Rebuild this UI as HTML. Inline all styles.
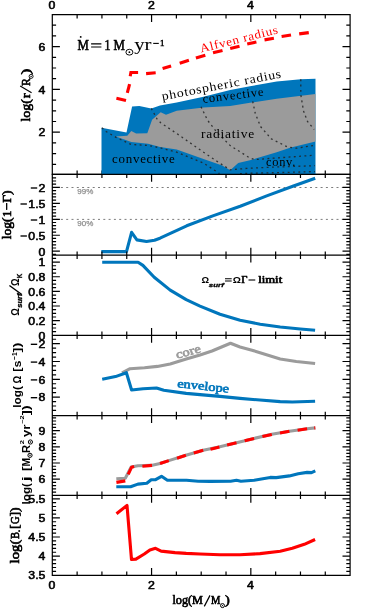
<!DOCTYPE html>
<html><head><meta charset="utf-8"><title>chart</title>
<style>
html,body{margin:0;padding:0;background:#fff}
svg{display:block;will-change:transform}
.tk{font-family:"Liberation Sans",sans-serif;font-weight:normal;fill:#000;stroke:#000;stroke-width:0.55px;stroke-linejoin:round}
.sf{font-family:"Liberation Serif",serif;font-weight:normal;stroke-width:0.65px;stroke-linejoin:round}
.sk{stroke:#000}
.tb{font-family:"Liberation Sans",sans-serif;font-weight:bold;fill:#000}
.sr{font-family:"Liberation Serif",serif;font-weight:normal}
</style></head><body>
<svg width="374" height="609" viewBox="0 0 374 609">
<rect width="374" height="609" fill="#fff"/>
<path d="M52.30 14.60H350.10V174.30H52.30ZM77.12 14.60L77.12 18.40M77.12 174.30L77.12 170.50M101.93 14.60L101.93 18.40M101.93 174.30L101.93 170.50M126.75 14.60L126.75 18.40M126.75 174.30L126.75 170.50M151.57 14.60L151.57 22.00M151.57 174.30L151.57 166.90M176.38 14.60L176.38 18.40M176.38 174.30L176.38 170.50M201.20 14.60L201.20 18.40M201.20 174.30L201.20 170.50M226.02 14.60L226.02 18.40M226.02 174.30L226.02 170.50M250.83 14.60L250.83 22.00M250.83 174.30L250.83 166.90M275.65 14.60L275.65 18.40M275.65 174.30L275.65 170.50M300.47 14.60L300.47 18.40M300.47 174.30L300.47 170.50M325.28 14.60L325.28 18.40M325.28 174.30L325.28 170.50M52.30 25.20L56.10 25.20M350.10 25.20L346.30 25.20M52.30 35.90L56.10 35.90M350.10 35.90L346.30 35.90M52.30 46.60L59.90 46.60M350.10 46.60L342.50 46.60M52.30 57.30L56.10 57.30M350.10 57.30L346.30 57.30M52.30 68.00L56.10 68.00M350.10 68.00L346.30 68.00M52.30 78.70L56.10 78.70M350.10 78.70L346.30 78.70M52.30 89.40L59.90 89.40M350.10 89.40L342.50 89.40M52.30 100.10L56.10 100.10M350.10 100.10L346.30 100.10M52.30 110.80L56.10 110.80M350.10 110.80L346.30 110.80M52.30 121.50L56.10 121.50M350.10 121.50L346.30 121.50M52.30 132.20L59.90 132.20M350.10 132.20L342.50 132.20M52.30 142.90L56.10 142.90M350.10 142.90L346.30 142.90M52.30 153.60L56.10 153.60M350.10 153.60L346.30 153.60M52.30 164.30L56.10 164.30M350.10 164.30L346.30 164.30" fill="none" stroke="#000" stroke-width="1.20" stroke-linecap="butt"/>
<polygon points="101.5,127.7 126.5,132.5 132.1,106.5 139.3,106.0 151.3,108.4 160.0,105.6 176.7,102.6 203.5,96.7 230.2,90.0 250.0,86.2 276.7,81.6 300.8,79.3 315.5,78.7 315.5,174.3 101.5,174.3" fill="#0076bc"/>
<polygon points="116.0,136.5 127.3,135.7 131.3,130.9 136.1,133.6 147.3,133.3 152.1,119.7 160.7,112.3 166.0,114.8 176.7,110.8 203.5,107.6 230.2,106.0 250.0,102.8 276.7,98.8 315.5,94.0 315.5,141.6 290.0,147.7 276.7,152.2 250.0,160.3 238.2,163.0 230.2,170.2 222.2,165.6 203.5,158.9 176.7,149.6 160.0,147.0 148.1,143.7 131.3,142.1" fill="#9b9b9b"/>
<polyline points="101.9,127.7 106.4,131.7 116.0,137.3 131.3,144.5 148.1,145.4 160.0,147.8 176.7,152.2 203.5,163.0 219.5,173.6" fill="none" stroke="#222" stroke-opacity="0.85" stroke-width="1.3" stroke-dasharray="1.9 3.4"/>
<polyline points="151.3,108.4 157.0,118.9 160.7,122.8 176.7,133.5 203.5,152.2 219.5,163.0 230.2,169.8 246.7,168.4 273.5,167.1 315.0,165.7" fill="none" stroke="#222" stroke-opacity="0.85" stroke-width="1.3" stroke-dasharray="1.9 3.4"/>
<polyline points="201.0,106.8 207.5,120.2 216.8,132.2 230.2,145.6 249.4,157.7 254.8,159.6 273.5,158.2 315.0,155.2" fill="none" stroke="#222" stroke-opacity="0.85" stroke-width="1.3" stroke-dasharray="1.9 3.4"/>
<polyline points="252.7,101.4 255.3,113.5 260.7,126.8 271.4,138.9 287.4,146.9 296.6,148.2 315.5,145.2" fill="none" stroke="#222" stroke-opacity="0.85" stroke-width="1.3" stroke-dasharray="1.9 3.4"/>
<polyline points="300.8,79.3 300.8,94.8 303.5,110.8 307.5,121.5 314.2,129.5" fill="none" stroke="#222" stroke-opacity="0.85" stroke-width="1.3" stroke-dasharray="1.9 3.4"/>
<polyline points="240.0,173.6 252.7,173.2 279.5,172.6 315.0,171.6" fill="none" stroke="#222" stroke-opacity="0.85" stroke-width="1.3" stroke-dasharray="1.9 3.4"/>
<polyline points="116.4,98.2 126.0,100.4" fill="none" stroke="#ff0000" stroke-width="3.1" stroke-linejoin="miter"/>
<polyline points="127.3,92.9 129.6,84.1" fill="none" stroke="#ff0000" stroke-width="3.1" stroke-linejoin="miter"/>
<polyline points="130.2,76.2 130.9,72.5 138.1,72.5" fill="none" stroke="#ff0000" stroke-width="3.1" stroke-linejoin="miter"/>
<polyline points="146.1,73.6 155.7,72.8" fill="none" stroke="#ff0000" stroke-width="3.1" stroke-linejoin="miter"/>
<polyline points="162.6,68.6 171.1,66.0" fill="none" stroke="#ff0000" stroke-width="3.1" stroke-linejoin="miter"/>
<polyline points="179.7,63.2 188.9,60.2" fill="none" stroke="#ff0000" stroke-width="3.1" stroke-linejoin="miter"/>
<polyline points="195.9,58.1 205.3,55.3" fill="none" stroke="#ff0000" stroke-width="3.1" stroke-linejoin="miter"/>
<polyline points="213.0,52.8 222.5,50.4" fill="none" stroke="#ff0000" stroke-width="3.1" stroke-linejoin="miter"/>
<polyline points="230.2,48.5 239.5,46.2" fill="none" stroke="#ff0000" stroke-width="3.1" stroke-linejoin="miter"/>
<polyline points="247.2,44.0 256.4,42.0" fill="none" stroke="#ff0000" stroke-width="3.1" stroke-linejoin="miter"/>
<polyline points="264.5,39.9 273.9,38.2" fill="none" stroke="#ff0000" stroke-width="3.1" stroke-linejoin="miter"/>
<polyline points="281.6,36.5 291.0,35.0" fill="none" stroke="#ff0000" stroke-width="3.1" stroke-linejoin="miter"/>
<polyline points="299.2,33.9 308.8,32.6" fill="none" stroke="#ff0000" stroke-width="3.1" stroke-linejoin="miter"/>
<line x1="53.3" x2="350.1" y1="187.5" y2="187.5" stroke="#7d7d7d" stroke-width="1" stroke-dasharray="2 3.3" stroke-dashoffset="3"/>
<line x1="53.3" x2="350.1" y1="219.4" y2="219.4" stroke="#7d7d7d" stroke-width="1" stroke-dasharray="2 3.3" stroke-dashoffset="3"/>
<polyline points="101.3,251.6 126.5,251.6 131.6,232.3 136.9,239.9 146.5,241.5 154.5,240.3 160.0,238.2 186.7,225.8 213.5,215.6 240.2,206.3 266.7,195.9 293.5,186.0 315.2,178.2" fill="none" stroke="#0076bc" stroke-width="3.1" stroke-linejoin="round"/>
<polyline points="102.2,262.2 138.1,262.2 142.9,265.4 154.2,277.3 170.2,290.1 186.2,299.7 200.0,306.1 220.0,314.2 240.1,320.2 260.2,324.2 280.2,327.0 300.3,329.0 315.1,330.2" fill="none" stroke="#0076bc" stroke-width="3.1" stroke-linejoin="round"/>
<polyline points="122.0,372.9 130.1,368.7 144.5,367.7 157.4,366.4 170.2,363.9 186.2,359.1 200.0,355.0 212.0,351.0 230.5,343.3 240.0,347.0 252.0,350.2 280.2,359.0 296.3,361.5 315.1,363.5" fill="none" stroke="#9b9b9b" stroke-width="3.1" stroke-linejoin="round"/>
<polyline points="102.2,379.3 115.5,376.6 126.4,372.7 131.6,390.0 143.1,388.7 156.5,388.0 163.8,390.2 186.2,393.4 200.0,394.6 220.0,396.4 240.0,398.4 260.0,400.0 280.2,401.6 292.3,402.0 315.1,401.2" fill="none" stroke="#0076bc" stroke-width="3.1" stroke-linejoin="round"/>
<polyline points="116.3,478.8 125.3,478.2 131.2,467.1 137.9,465.8 151.2,465.4 160.0,463.5 168.8,460.6 185.9,455.3 203.2,450.3 218.8,446.9 236.5,442.7 254.1,438.4 271.8,434.3 289.4,431.3 307.1,428.8 315.3,427.9" fill="none" stroke="#9b9b9b" stroke-width="3.1" stroke-linejoin="round"/>
<polyline points="116.4,482.4 125.3,480.9" fill="none" stroke="#ff0000" stroke-width="3.1"/>
<polyline points="128.2,474.4 131.6,467.2 134.1,466.5" fill="none" stroke="#ff0000" stroke-width="3.1"/>
<polyline points="142.4,466.2 152.0,465.4" fill="none" stroke="#ff0000" stroke-width="3.1"/>
<polyline points="160.0,463.5 168.8,460.6" fill="none" stroke="#ff0000" stroke-width="3.1"/>
<polyline points="177.0,458.2 185.9,455.3" fill="none" stroke="#ff0000" stroke-width="3.1"/>
<polyline points="193.8,452.9 203.2,450.3" fill="none" stroke="#ff0000" stroke-width="3.1"/>
<polyline points="210.5,449.2 219.4,446.9" fill="none" stroke="#ff0000" stroke-width="3.1"/>
<polyline points="227.1,445.1 236.5,442.8" fill="none" stroke="#ff0000" stroke-width="3.1"/>
<polyline points="244.7,440.8 254.1,438.5" fill="none" stroke="#ff0000" stroke-width="3.1"/>
<polyline points="262.4,436.5 271.8,434.4" fill="none" stroke="#ff0000" stroke-width="3.1"/>
<polyline points="280.0,433.0 289.4,431.3" fill="none" stroke="#ff0000" stroke-width="3.1"/>
<polyline points="297.6,430.2 307.1,428.8" fill="none" stroke="#ff0000" stroke-width="3.1"/>
<polyline points="314.3,428.0 315.3,427.9" fill="none" stroke="#ff0000" stroke-width="3.1"/>
<polyline points="116.3,486.8 130.6,486.8 137.9,484.1 146.8,483.2 151.2,479.7 155.6,479.7 161.5,476.3 167.4,480.3 186.5,480.3 198.2,481.2 210.0,481.4 230.6,481.2 236.5,480.3 240.9,481.2 254.1,480.3 262.9,478.8 270.3,477.4 276.2,477.6 289.4,475.9 298.2,473.8 307.1,472.4 311.5,472.6 315.3,470.9" fill="none" stroke="#0076bc" stroke-width="3.1" stroke-linejoin="round"/>
<polyline points="116.5,513.7 127.0,505.4 131.5,559.5 135.9,559.1 144.3,554.0 149.9,549.9 155.5,548.3 161.1,551.1 175.0,552.6 186.2,553.4 200.0,554.0 220.0,554.8 240.0,554.8 260.0,553.6 280.2,551.2 292.3,548.3 304.3,544.3 315.1,539.5" fill="none" stroke="#ff0000" stroke-width="3.1" stroke-linejoin="round"/>
<path d="M52.30 174.30H350.10V255.20H52.30ZM77.12 174.30L77.12 178.10M77.12 255.20L77.12 251.40M101.93 174.30L101.93 178.10M101.93 255.20L101.93 251.40M126.75 174.30L126.75 178.10M126.75 255.20L126.75 251.40M151.57 174.30L151.57 181.70M151.57 255.20L151.57 247.80M176.38 174.30L176.38 178.10M176.38 255.20L176.38 251.40M201.20 174.30L201.20 178.10M201.20 255.20L201.20 251.40M226.02 174.30L226.02 178.10M226.02 255.20L226.02 251.40M250.83 174.30L250.83 181.70M250.83 255.20L250.83 247.80M275.65 174.30L275.65 178.10M275.65 255.20L275.65 251.40M300.47 174.30L300.47 178.10M300.47 255.20L300.47 251.40M325.28 174.30L325.28 178.10M325.28 255.20L325.28 251.40M52.30 177.83L56.10 177.83M350.10 177.83L346.30 177.83M52.30 181.02L56.10 181.02M350.10 181.02L346.30 181.02M52.30 184.21L56.10 184.21M350.10 184.21L346.30 184.21M52.30 187.40L59.90 187.40M350.10 187.40L342.50 187.40M52.30 190.59L56.10 190.59M350.10 190.59L346.30 190.59M52.30 193.78L56.10 193.78M350.10 193.78L346.30 193.78M52.30 196.97L56.10 196.97M350.10 196.97L346.30 196.97M52.30 200.16L56.10 200.16M350.10 200.16L346.30 200.16M52.30 203.35L59.90 203.35M350.10 203.35L342.50 203.35M52.30 206.54L56.10 206.54M350.10 206.54L346.30 206.54M52.30 209.73L56.10 209.73M350.10 209.73L346.30 209.73M52.30 212.92L56.10 212.92M350.10 212.92L346.30 212.92M52.30 216.11L56.10 216.11M350.10 216.11L346.30 216.11M52.30 219.30L59.90 219.30M350.10 219.30L342.50 219.30M52.30 222.49L56.10 222.49M350.10 222.49L346.30 222.49M52.30 225.68L56.10 225.68M350.10 225.68L346.30 225.68M52.30 228.87L56.10 228.87M350.10 228.87L346.30 228.87M52.30 232.06L56.10 232.06M350.10 232.06L346.30 232.06M52.30 235.25L59.90 235.25M350.10 235.25L342.50 235.25M52.30 238.44L56.10 238.44M350.10 238.44L346.30 238.44M52.30 241.63L56.10 241.63M350.10 241.63L346.30 241.63M52.30 244.82L56.10 244.82M350.10 244.82L346.30 244.82M52.30 248.01L56.10 248.01M350.10 248.01L346.30 248.01M52.30 251.20L59.90 251.20M350.10 251.20L342.50 251.20M52.30 254.39L56.10 254.39M350.10 254.39L346.30 254.39M52.30 255.20H350.10V335.30H52.30ZM77.12 255.20L77.12 259.00M77.12 335.30L77.12 331.50M101.93 255.20L101.93 259.00M101.93 335.30L101.93 331.50M126.75 255.20L126.75 259.00M126.75 335.30L126.75 331.50M151.57 255.20L151.57 262.60M151.57 335.30L151.57 327.90M176.38 255.20L176.38 259.00M176.38 335.30L176.38 331.50M201.20 255.20L201.20 259.00M201.20 335.30L201.20 331.50M226.02 255.20L226.02 259.00M226.02 335.30L226.02 331.50M250.83 255.20L250.83 262.60M250.83 335.30L250.83 327.90M275.65 255.20L275.65 259.00M275.65 335.30L275.65 331.50M300.47 255.20L300.47 259.00M300.47 335.30L300.47 331.50M325.28 255.20L325.28 259.00M325.28 335.30L325.28 331.50M52.30 258.44L56.10 258.44M350.10 258.44L346.30 258.44M52.30 262.10L59.90 262.10M350.10 262.10L342.50 262.10M52.30 265.76L56.10 265.76M350.10 265.76L346.30 265.76M52.30 269.42L56.10 269.42M350.10 269.42L346.30 269.42M52.30 273.08L56.10 273.08M350.10 273.08L346.30 273.08M52.30 276.74L59.90 276.74M350.10 276.74L342.50 276.74M52.30 280.40L56.10 280.40M350.10 280.40L346.30 280.40M52.30 284.06L56.10 284.06M350.10 284.06L346.30 284.06M52.30 287.72L56.10 287.72M350.10 287.72L346.30 287.72M52.30 291.38L59.90 291.38M350.10 291.38L342.50 291.38M52.30 295.04L56.10 295.04M350.10 295.04L346.30 295.04M52.30 298.70L56.10 298.70M350.10 298.70L346.30 298.70M52.30 302.36L56.10 302.36M350.10 302.36L346.30 302.36M52.30 306.02L59.90 306.02M350.10 306.02L342.50 306.02M52.30 309.68L56.10 309.68M350.10 309.68L346.30 309.68M52.30 313.34L56.10 313.34M350.10 313.34L346.30 313.34M52.30 317.00L56.10 317.00M350.10 317.00L346.30 317.00M52.30 320.66L59.90 320.66M350.10 320.66L342.50 320.66M52.30 324.32L56.10 324.32M350.10 324.32L346.30 324.32M52.30 327.98L56.10 327.98M350.10 327.98L346.30 327.98M52.30 331.64L56.10 331.64M350.10 331.64L346.30 331.64M52.30 335.30H350.10V415.60H52.30ZM77.12 335.30L77.12 339.10M77.12 415.60L77.12 411.80M101.93 335.30L101.93 339.10M101.93 415.60L101.93 411.80M126.75 335.30L126.75 339.10M126.75 415.60L126.75 411.80M151.57 335.30L151.57 342.70M151.57 415.60L151.57 408.20M176.38 335.30L176.38 339.10M176.38 415.60L176.38 411.80M201.20 335.30L201.20 339.10M201.20 415.60L201.20 411.80M226.02 335.30L226.02 339.10M226.02 415.60L226.02 411.80M250.83 335.30L250.83 342.70M250.83 415.60L250.83 408.20M275.65 335.30L275.65 339.10M275.65 415.60L275.65 411.80M300.47 335.30L300.47 339.10M300.47 415.60L300.47 411.80M325.28 335.30L325.28 339.10M325.28 415.60L325.28 411.80M52.30 339.25L56.10 339.25M350.10 339.25L346.30 339.25M52.30 343.70L59.90 343.70M350.10 343.70L342.50 343.70M52.30 348.15L56.10 348.15M350.10 348.15L346.30 348.15M52.30 352.60L56.10 352.60M350.10 352.60L346.30 352.60M52.30 357.05L56.10 357.05M350.10 357.05L346.30 357.05M52.30 361.50L59.90 361.50M350.10 361.50L342.50 361.50M52.30 365.95L56.10 365.95M350.10 365.95L346.30 365.95M52.30 370.40L56.10 370.40M350.10 370.40L346.30 370.40M52.30 374.85L56.10 374.85M350.10 374.85L346.30 374.85M52.30 379.30L59.90 379.30M350.10 379.30L342.50 379.30M52.30 383.75L56.10 383.75M350.10 383.75L346.30 383.75M52.30 388.20L56.10 388.20M350.10 388.20L346.30 388.20M52.30 392.65L56.10 392.65M350.10 392.65L346.30 392.65M52.30 397.10L59.90 397.10M350.10 397.10L342.50 397.10M52.30 401.55L56.10 401.55M350.10 401.55L346.30 401.55M52.30 406.00L56.10 406.00M350.10 406.00L346.30 406.00M52.30 410.45L56.10 410.45M350.10 410.45L346.30 410.45M52.30 415.60H350.10V495.30H52.30ZM77.12 415.60L77.12 419.40M77.12 495.30L77.12 491.50M101.93 415.60L101.93 419.40M101.93 495.30L101.93 491.50M126.75 415.60L126.75 419.40M126.75 495.30L126.75 491.50M151.57 415.60L151.57 423.00M151.57 495.30L151.57 487.90M176.38 415.60L176.38 419.40M176.38 495.30L176.38 491.50M201.20 415.60L201.20 419.40M201.20 495.30L201.20 491.50M226.02 415.60L226.02 419.40M226.02 495.30L226.02 491.50M250.83 415.60L250.83 423.00M250.83 495.30L250.83 487.90M275.65 415.60L275.65 419.40M275.65 495.30L275.65 491.50M300.47 415.60L300.47 419.40M300.47 495.30L300.47 491.50M325.28 415.60L325.28 419.40M325.28 495.30L325.28 491.50M52.30 417.78L56.10 417.78M350.10 417.78L346.30 417.78M52.30 421.01L56.10 421.01M350.10 421.01L346.30 421.01M52.30 424.24L56.10 424.24M350.10 424.24L346.30 424.24M52.30 427.47L56.10 427.47M350.10 427.47L346.30 427.47M52.30 430.70L59.90 430.70M350.10 430.70L342.50 430.70M52.30 433.93L56.10 433.93M350.10 433.93L346.30 433.93M52.30 437.16L56.10 437.16M350.10 437.16L346.30 437.16M52.30 440.39L56.10 440.39M350.10 440.39L346.30 440.39M52.30 443.62L56.10 443.62M350.10 443.62L346.30 443.62M52.30 446.85L59.90 446.85M350.10 446.85L342.50 446.85M52.30 450.08L56.10 450.08M350.10 450.08L346.30 450.08M52.30 453.31L56.10 453.31M350.10 453.31L346.30 453.31M52.30 456.54L56.10 456.54M350.10 456.54L346.30 456.54M52.30 459.77L56.10 459.77M350.10 459.77L346.30 459.77M52.30 463.00L59.90 463.00M350.10 463.00L342.50 463.00M52.30 466.23L56.10 466.23M350.10 466.23L346.30 466.23M52.30 469.46L56.10 469.46M350.10 469.46L346.30 469.46M52.30 472.69L56.10 472.69M350.10 472.69L346.30 472.69M52.30 475.92L56.10 475.92M350.10 475.92L346.30 475.92M52.30 479.15L59.90 479.15M350.10 479.15L342.50 479.15M52.30 482.38L56.10 482.38M350.10 482.38L346.30 482.38M52.30 485.61L56.10 485.61M350.10 485.61L346.30 485.61M52.30 488.84L56.10 488.84M350.10 488.84L346.30 488.84M52.30 492.07L56.10 492.07M350.10 492.07L346.30 492.07M52.30 495.30H350.10V575.30H52.30ZM77.12 495.30L77.12 499.10M77.12 575.30L77.12 571.50M101.93 495.30L101.93 499.10M101.93 575.30L101.93 571.50M126.75 495.30L126.75 499.10M126.75 575.30L126.75 571.50M151.57 495.30L151.57 502.70M151.57 575.30L151.57 567.90M176.38 495.30L176.38 499.10M176.38 575.30L176.38 571.50M201.20 495.30L201.20 499.10M201.20 575.30L201.20 571.50M226.02 495.30L226.02 499.10M226.02 575.30L226.02 571.50M250.83 495.30L250.83 502.70M250.83 575.30L250.83 567.90M275.65 495.30L275.65 499.10M275.65 575.30L275.65 571.50M300.47 495.30L300.47 499.10M300.47 575.30L300.47 571.50M325.28 495.30L325.28 499.10M325.28 575.30L325.28 571.50M52.30 498.90L59.90 498.90M350.10 498.90L342.50 498.90M52.30 502.71L56.10 502.71M350.10 502.71L346.30 502.71M52.30 506.52L56.10 506.52M350.10 506.52L346.30 506.52M52.30 510.33L56.10 510.33M350.10 510.33L346.30 510.33M52.30 514.14L56.10 514.14M350.10 514.14L346.30 514.14M52.30 517.95L59.90 517.95M350.10 517.95L342.50 517.95M52.30 521.76L56.10 521.76M350.10 521.76L346.30 521.76M52.30 525.57L56.10 525.57M350.10 525.57L346.30 525.57M52.30 529.38L56.10 529.38M350.10 529.38L346.30 529.38M52.30 533.19L56.10 533.19M350.10 533.19L346.30 533.19M52.30 537.00L59.90 537.00M350.10 537.00L342.50 537.00M52.30 540.81L56.10 540.81M350.10 540.81L346.30 540.81M52.30 544.62L56.10 544.62M350.10 544.62L346.30 544.62M52.30 548.43L56.10 548.43M350.10 548.43L346.30 548.43M52.30 552.24L56.10 552.24M350.10 552.24L346.30 552.24M52.30 556.05L59.90 556.05M350.10 556.05L342.50 556.05M52.30 559.86L56.10 559.86M350.10 559.86L346.30 559.86M52.30 563.67L56.10 563.67M350.10 563.67L346.30 563.67M52.30 567.48L56.10 567.48M350.10 567.48L346.30 567.48M52.30 571.29L56.10 571.29M350.10 571.29L346.30 571.29" fill="none" stroke="#000" stroke-width="1.20" stroke-linecap="butt"/>
<text transform="translate(45.4 50.8) scale(1.16 1)" text-anchor="end" class="tk" font-size="10.6">6</text>
<text transform="translate(45.4 93.6) scale(1.16 1)" text-anchor="end" class="tk" font-size="10.6">4</text>
<text transform="translate(45.4 136.4) scale(1.16 1)" text-anchor="end" class="tk" font-size="10.6">2</text>
<text transform="translate(45.4 191.6) scale(1.16 1)" text-anchor="end" class="tk" font-size="10.6">2</text>
<path d="M30.8 188.0H37.2" stroke="#000" stroke-width="1.35" fill="none"/>
<text transform="translate(45.4 207.6) scale(1.16 1)" text-anchor="end" class="tk" font-size="10.6">1.5</text>
<path d="M20.5 204.0H26.9" stroke="#000" stroke-width="1.35" fill="none"/>
<text transform="translate(45.4 223.6) scale(1.16 1)" text-anchor="end" class="tk" font-size="10.6">1</text>
<path d="M30.8 220.0H37.2" stroke="#000" stroke-width="1.35" fill="none"/>
<text transform="translate(45.4 239.6) scale(1.16 1)" text-anchor="end" class="tk" font-size="10.6">0.5</text>
<path d="M20.5 236.0H26.9" stroke="#000" stroke-width="1.35" fill="none"/>
<text transform="translate(45.4 255.5) scale(1.16 1)" text-anchor="end" class="tk" font-size="10.6">0</text>
<text transform="translate(45.4 266.3) scale(1.16 1)" text-anchor="end" class="tk" font-size="10.6">1</text>
<text transform="translate(45.4 281.0) scale(1.16 1)" text-anchor="end" class="tk" font-size="10.6">0.8</text>
<text transform="translate(45.4 295.7) scale(1.16 1)" text-anchor="end" class="tk" font-size="10.6">0.6</text>
<text transform="translate(45.4 310.3) scale(1.16 1)" text-anchor="end" class="tk" font-size="10.6">0.4</text>
<text transform="translate(45.4 324.9) scale(1.16 1)" text-anchor="end" class="tk" font-size="10.6">0.2</text>
<text transform="translate(45.4 339.5) scale(1.16 1)" text-anchor="end" class="tk" font-size="10.6">0</text>
<text transform="translate(45.4 347.9) scale(1.16 1)" text-anchor="end" class="tk" font-size="10.6">2</text>
<path d="M30.8 344.3H37.2" stroke="#000" stroke-width="1.35" fill="none"/>
<text transform="translate(45.4 365.7) scale(1.16 1)" text-anchor="end" class="tk" font-size="10.6">4</text>
<path d="M30.8 362.1H37.2" stroke="#000" stroke-width="1.35" fill="none"/>
<text transform="translate(45.4 383.5) scale(1.16 1)" text-anchor="end" class="tk" font-size="10.6">6</text>
<path d="M30.8 379.9H37.2" stroke="#000" stroke-width="1.35" fill="none"/>
<text transform="translate(45.4 401.3) scale(1.16 1)" text-anchor="end" class="tk" font-size="10.6">8</text>
<path d="M30.8 397.7H37.2" stroke="#000" stroke-width="1.35" fill="none"/>
<text transform="translate(45.4 434.9) scale(1.16 1)" text-anchor="end" class="tk" font-size="10.6">9</text>
<text transform="translate(45.4 451.1) scale(1.16 1)" text-anchor="end" class="tk" font-size="10.6">8</text>
<text transform="translate(45.4 467.2) scale(1.16 1)" text-anchor="end" class="tk" font-size="10.6">7</text>
<text transform="translate(45.4 483.4) scale(1.16 1)" text-anchor="end" class="tk" font-size="10.6">6</text>
<text transform="translate(45.4 499.5) scale(1.16 1)" text-anchor="end" class="tk" font-size="10.6"></text>
<text transform="translate(45.4 503.1) scale(1.16 1)" text-anchor="end" class="tk" font-size="10.6">5.5</text>
<text transform="translate(45.4 522.1) scale(1.16 1)" text-anchor="end" class="tk" font-size="10.6">5</text>
<text transform="translate(45.4 541.1) scale(1.16 1)" text-anchor="end" class="tk" font-size="10.6">4.5</text>
<text transform="translate(45.4 560.2) scale(1.16 1)" text-anchor="end" class="tk" font-size="10.6">4</text>
<text transform="translate(45.4 579.2) scale(1.16 1)" text-anchor="end" class="tk" font-size="10.6">3.5</text>
<text transform="translate(52.0 8.8) scale(1.16 1)" text-anchor="middle" class="tk" font-size="10.6">0</text>
<text transform="translate(52.0 588.6) scale(1.16 1)" text-anchor="middle" class="tk" font-size="10.6">0</text>
<text transform="translate(151.3 8.8) scale(1.16 1)" text-anchor="middle" class="tk" font-size="10.6">2</text>
<text transform="translate(151.3 588.6) scale(1.16 1)" text-anchor="middle" class="tk" font-size="10.6">2</text>
<text transform="translate(250.5 8.8) scale(1.16 1)" text-anchor="middle" class="tk" font-size="10.6">4</text>
<text transform="translate(250.5 588.6) scale(1.16 1)" text-anchor="middle" class="tk" font-size="10.6">4</text>
<text x="172.4" y="604" class="sf sk" font-size="12.4" textLength="30.6" lengthAdjust="spacingAndGlyphs">log(M</text>
<path d="M204.3 606.4L210 595.4" stroke="#000" stroke-width="1.2" fill="none"/>
<text x="210.9" y="604" class="sf sk" font-size="12.4" textLength="9.4" lengthAdjust="spacingAndGlyphs">M</text>
<circle cx="222.5" cy="605.6" r="2.0" fill="none" stroke="#000" stroke-width="1.0"/><circle cx="222.5" cy="605.6" r="0.7" fill="#000"/>
<text x="225.0" y="604" class="sf sk" font-size="12.4" textLength="4.8" lengthAdjust="spacingAndGlyphs">)</text>
<text x="77.5" y="50.4" font-family="Liberation Serif" font-size="15.3" text-anchor="start" fill="#000" stroke="#000" stroke-width="0.6" textLength="11.4" lengthAdjust="spacingAndGlyphs" >M</text>
<circle cx="80.7" cy="36.9" r="0.95" fill="#000"/>
<path d="M91.1 43.8H101.4M91.1 47H101.4" stroke="#000" stroke-width="1.2" fill="none"/>
<text x="104.2" y="50.4" font-family="Liberation Serif" font-size="15.3" text-anchor="start" fill="#000" stroke="#000" stroke-width="0.45" textLength="6.4" lengthAdjust="spacingAndGlyphs" >1</text>
<text x="113.6" y="50.4" font-family="Liberation Serif" font-size="15.3" text-anchor="start" fill="#000" stroke="#000" stroke-width="0.6" textLength="11.4" lengthAdjust="spacingAndGlyphs" >M</text>
<ellipse cx="129.4" cy="52.2" rx="3.5" ry="2.9" fill="none" stroke="#000" stroke-width="0.95"/><circle cx="129.4" cy="52.2" r="0.9" fill="#000"/>
<text x="134.2" y="50.4" font-family="Liberation Serif" font-size="16.5" text-anchor="start" fill="#000" stroke="#000" stroke-width="0.05" textLength="17.4" lengthAdjust="spacingAndGlyphs" >yr</text>
<path d="M153.2 43.4H158.8" stroke="#000" stroke-width="1.1" fill="none"/>
<text x="160.0" y="46.0" font-family="Liberation Serif" font-size="8" text-anchor="start" fill="#000" stroke="#000" stroke-width="0.45" textLength="4.4" lengthAdjust="spacingAndGlyphs" >1</text>
<text transform="translate(201 52.6) rotate(-14)" class="sr" font-size="12" fill="#ff0000" textLength="80.5" lengthAdjust="spacingAndGlyphs" letter-spacing="0.6">Alfven radius</text>
<text transform="translate(162.5 100.3) rotate(-10.8)" class="sr" font-size="12.3" textLength="122" lengthAdjust="spacingAndGlyphs" letter-spacing="0.7">photospheric radius</text>
<text transform="translate(203 103) rotate(-7)" class="sr" font-size="12.3" letter-spacing="0.7" textLength="62" lengthAdjust="spacingAndGlyphs">convective</text>
<text x="201" y="138" class="sr" font-size="12.3" letter-spacing="0.7" textLength="54" lengthAdjust="spacingAndGlyphs">radiative</text>
<text x="112" y="162.5" class="sr" font-size="12.3" letter-spacing="0.7" textLength="63.5" lengthAdjust="spacingAndGlyphs">convective</text>
<text x="266" y="165.5" class="sr" font-size="12.3" letter-spacing="0.7" textLength="30" lengthAdjust="spacingAndGlyphs">conv.</text>
<text x="77.3" y="193.7" font-family="Liberation Sans" font-size="7.1" fill="#929292" stroke="#929292" stroke-width="0.25" textLength="16" lengthAdjust="spacingAndGlyphs">99%</text>
<text x="77.3" y="225.7" font-family="Liberation Sans" font-size="7.1" fill="#929292" stroke="#929292" stroke-width="0.25" textLength="16" lengthAdjust="spacingAndGlyphs">90%</text>
<text x="201.4" y="282.9" class="tb" font-size="9.8" textLength="7.6" lengthAdjust="spacingAndGlyphs" >Ω</text>
<text x="208.8" y="286.6" class="tb" font-size="5.6" textLength="15.0" lengthAdjust="spacingAndGlyphs" font-style="italic" stroke="#000" stroke-width="0.3">surf</text>
<path d="M225 278.7H231.7M225 281H231.7" stroke="#000" stroke-width="1.1" fill="none"/>
<text x="232.7" y="282.9" class="tb" font-size="9.8" textLength="8.2" lengthAdjust="spacingAndGlyphs" >Ω</text>
<text x="241.3" y="282.9" class="sf sk" font-size="10.4" textLength="6.2" lengthAdjust="spacingAndGlyphs" >Γ</text>
<path d="M248.5 280H255.3" stroke="#000" stroke-width="1.1" fill="none"/>
<text x="258.2" y="282.9" class="sf sk" font-size="10.4" textLength="24.0" lengthAdjust="spacingAndGlyphs" >limit</text>
<text transform="translate(177 358.8) rotate(-15.7)" class="sf" font-size="12" fill="#9b9b9b" stroke="#9b9b9b" textLength="25.5" lengthAdjust="spacingAndGlyphs">core</text>
<text transform="translate(177 387.2) rotate(6)" class="sf" font-size="12" fill="#0076bc" stroke="#0076bc" textLength="52" lengthAdjust="spacingAndGlyphs">envelope</text>
<g transform="translate(29.8 121.6) rotate(-90)">
<text x="0.0" y="0.0" class="sf sk" font-size="12.8" textLength="22.6" lengthAdjust="spacingAndGlyphs" >log(</text>
<text x="23.4" y="0.0" class="sf sk" font-size="12.8" textLength="5.0" lengthAdjust="spacingAndGlyphs" >r</text>
<path d="M28.9 1.8L35.5 -9.6" stroke="#000" stroke-width="1.2" fill="none"/>
<text x="35.6" y="0.0" class="sf sk" font-size="12.8" textLength="7.8" lengthAdjust="spacingAndGlyphs" >R</text>
<circle cx="45.2" cy="1.3" r="2.0" fill="none" stroke="#000" stroke-width="0.9"/><circle cx="45.2" cy="1.3" r="0.7" fill="#000"/>
<text x="47.0" y="0.0" class="sf sk" font-size="12.8" textLength="5.8" lengthAdjust="spacingAndGlyphs" >)</text>
</g>
<g transform="translate(10.9 239.3) rotate(-90)">
<text x="0.0" y="0.0" class="sf sk" font-size="12.8" textLength="48.9" lengthAdjust="spacingAndGlyphs" >log(1−Γ)</text>
</g>
<g transform="translate(19.0 315.8) rotate(-90)">
<text x="0.0" y="0.0" class="tb" font-size="11.7" textLength="7.6" lengthAdjust="spacingAndGlyphs" >Ω</text>
<text x="8.0" y="3.3" class="tb" font-size="6.8" textLength="14.4" lengthAdjust="spacingAndGlyphs" stroke="#000" stroke-width="0.3" font-style="italic">surf</text>
<path d="M21.2 2.8L30.4 -9.6" stroke="#000" stroke-width="1.3" fill="none"/>
<text x="29.8" y="0.0" class="tb" font-size="11.7" textLength="7.6" lengthAdjust="spacingAndGlyphs" >Ω</text>
<text x="37.5" y="3.3" class="tb" font-size="6.8" textLength="4.6" lengthAdjust="spacingAndGlyphs" stroke="#000" stroke-width="0.3">K</text>
</g>
<g transform="translate(21.3 407.7) rotate(-90)">
<text x="0.0" y="0.0" class="tb" font-size="11.7" textLength="21.5" lengthAdjust="spacingAndGlyphs" >log(</text>
<text x="24.1" y="0.0" class="tb" font-size="11.7" textLength="7.7" lengthAdjust="spacingAndGlyphs" >Ω</text>
<text x="36.0" y="0.0" class="tb" font-size="11.7" textLength="11.1" lengthAdjust="spacingAndGlyphs" >[s</text>
<text x="47.7" y="-4.2" class="tb" font-size="7.6" textLength="7.7" lengthAdjust="spacingAndGlyphs" >−1</text>
<text x="55.2" y="0.0" class="tb" font-size="11.7" textLength="9.8" lengthAdjust="spacingAndGlyphs" >])</text>
</g>
<g transform="translate(29.6 504.8) rotate(-90)">
<text x="0.4" y="0.0" class="tb" font-size="11.7" textLength="21.4" lengthAdjust="spacingAndGlyphs" >log(</text>
<text x="23.6" y="0.0" class="tb" font-size="11.7" textLength="5.2" lengthAdjust="spacingAndGlyphs" >j</text>
<text x="33.8" y="0.0" class="tb" font-size="11.7" textLength="4.6" lengthAdjust="spacingAndGlyphs" >[</text>
<text x="38.4" y="0.0" class="tb" font-size="11.7" textLength="8.6" lengthAdjust="spacingAndGlyphs" >M</text>
<circle cx="49.5" cy="0.4" r="2.1" fill="none" stroke="#000" stroke-width="1.0"/><circle cx="49.5" cy="0.4" r="0.8" fill="#000"/>
<text x="51.8" y="0.0" class="tb" font-size="11.7" textLength="8.0" lengthAdjust="spacingAndGlyphs" >R</text>
<circle cx="62.8" cy="0.8" r="2.1" fill="none" stroke="#000" stroke-width="1.0"/><circle cx="62.8" cy="0.8" r="0.8" fill="#000"/>
<text x="60.5" y="-5.8" class="tb" font-size="5.6" textLength="4.2" lengthAdjust="spacingAndGlyphs" >2</text>
<text x="67.7" y="0.0" class="tb" font-size="11.7" textLength="12.4" lengthAdjust="spacingAndGlyphs" >yr</text>
<text x="81.0" y="-5.6" class="tb" font-size="5.6" textLength="8.2" lengthAdjust="spacingAndGlyphs" >−2</text>
<text x="89.6" y="0.0" class="tb" font-size="11.7" textLength="10.0" lengthAdjust="spacingAndGlyphs" >])</text>
</g>
<g transform="translate(19.0 563.4) rotate(-90)">
<text x="0.0" y="0.0" class="sf sk" font-size="12.8" textLength="23.7" lengthAdjust="spacingAndGlyphs" >log(</text>
<text x="24.5" y="0.0" class="sf sk" font-size="12.8" textLength="7.0" lengthAdjust="spacingAndGlyphs" >B</text>
<circle cx="32.5" cy="0.2" r="1.0" fill="#000"/>
<text x="34.3" y="0.0" class="sf sk" font-size="12.8" textLength="4.6" lengthAdjust="spacingAndGlyphs" >[</text>
<text x="39.4" y="0.0" class="sf sk" font-size="12.8" textLength="7.6" lengthAdjust="spacingAndGlyphs" >G</text>
<text x="46.8" y="0.0" class="sf sk" font-size="12.8" textLength="9.2" lengthAdjust="spacingAndGlyphs" >])</text>
</g>
</svg>
</body></html>
